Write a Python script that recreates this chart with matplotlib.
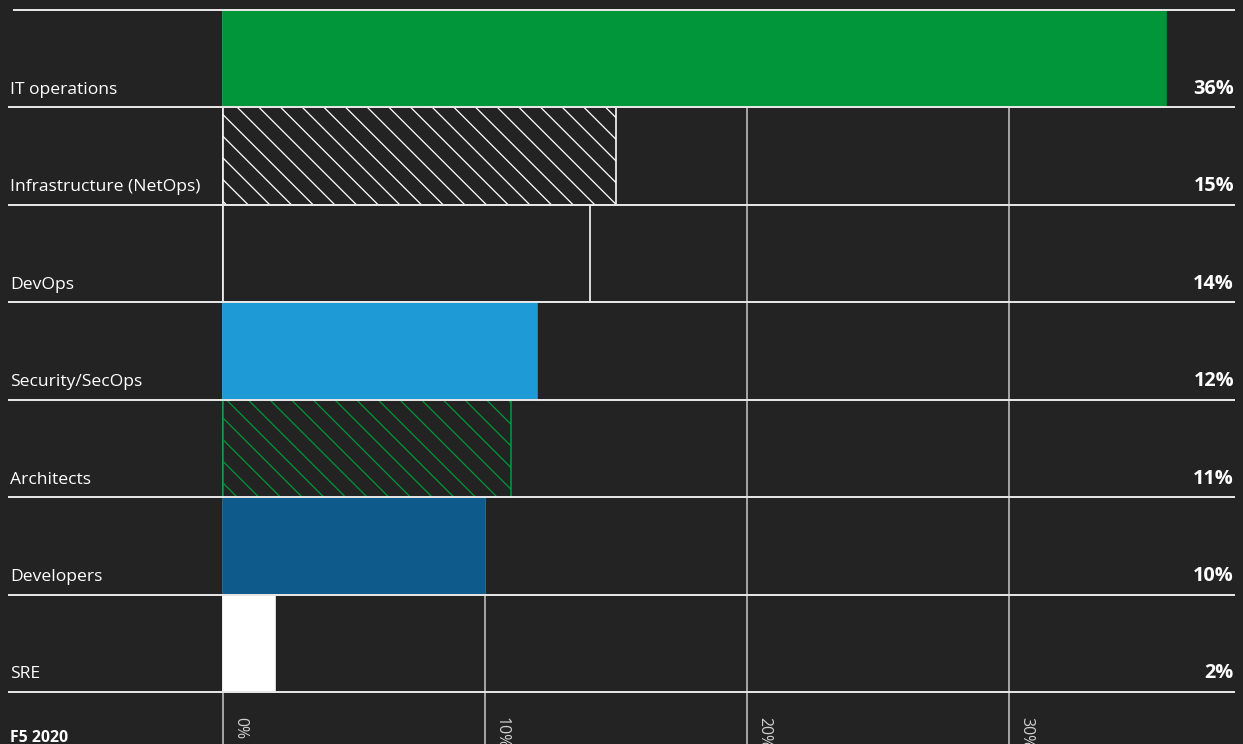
import matplotlib
matplotlib.use("Agg")
import matplotlib.pyplot as plt

roles = ["IT operations", "Infrastructure (NetOps)", "DevOps", "Security/SecOps",
         "Architects", "Developers", "SRE"]
shares = [36, 15, 14, 12, 11, 10, 2]
ticks = [0, 10, 20, 30]

bg = "#232323"
plt.rcParams["font.family"] = ["Open Sans", "DejaVu Sans"]
plt.rcParams["hatch.linewidth"] = 0.7

# bar styling per role: (face, edge, hatch)
styles = [
    ("#009639", "#009639", None),
    (bg, "#ffffff", "\\\\"),
    (bg, "#ffffff", None),
    ("#1e9bd7", "#1e9bd7", None),
    (bg, "#009639", "\\\\"),
    ("#0e5a8a", "#0e5a8a", None),
    ("#ffffff", "#ffffff", None),
]

dpi = 130
fig = plt.figure(figsize=(1243 / dpi, 744 / dpi), dpi=dpi, facecolor=bg)
ax = fig.add_axes([0, 0, 1, 1])
ax.set_facecolor(bg)
ax.axis("off")

# pixel layout -> data limits
px_per_pct = 26.2
x0_px = 223
row_px = 682 / 7
top_px = 10
ax.set_xlim(-x0_px / px_per_pct, (1243 - x0_px) / px_per_pct)
ax.set_ylim(6.5 + (744 - top_px - 682) / row_px, -0.5 - top_px / row_px)
ybottom = ax.get_ylim()[0]

# vertical gridlines, running down into the tick area
ax.vlines(ticks, -0.5, ybottom, color="#c0c0c0", lw=0.9, zorder=1)

y = range(len(roles))
for i, (v, (fc, ec, h)) in enumerate(zip(shares, styles)):
    ax.barh(i, v, height=1.0, color=fc, edgecolor=ec, hatch=h,
            linewidth=0.9, zorder=2)

# row separators
tr = ax.get_yaxis_transform()
ax.plot([14 / 1243, 1234 / 1243], [-0.5, -0.5], transform=tr,
        color="#e6e6e6", lw=1.1, zorder=3)
for i in y:
    ax.plot([9 / 1243, 1234 / 1243], [i + 0.5, i + 0.5], transform=tr,
            color="#e6e6e6", lw=1.1, zorder=3)

for i, (name, v) in enumerate(zip(roles, shares)):
    ax.text(10 / 1243, i + 0.36, name, transform=tr, color="#ffffff",
            fontsize=9.7, ha="left", va="baseline", zorder=4)
    ax.text(1234 / 1243, i + 0.36, f"{v}%", transform=tr, color="#ffffff",
            fontsize=11, fontweight="bold", ha="right", va="baseline", zorder=4)

for t in ticks:
    ax.text(t + 9 / px_per_pct, 6.5 + 25 / row_px, f"{t}%", color="#d0d0d0",
            fontsize=8.8, rotation=270, ha="left", va="top", zorder=4)

ax.text(10 / 1243, 6.5 + 50 / row_px, "F5 2020", transform=tr, color="#ffffff",
        fontsize=8.8, fontweight="bold", ha="left", va="baseline")

fig.savefig("out.png", dpi=dpi, facecolor=bg)
